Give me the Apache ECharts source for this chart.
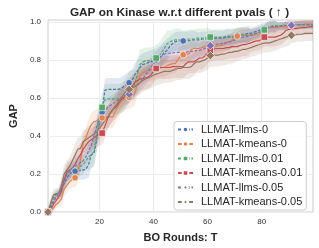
<!DOCTYPE html>
<html><head><meta charset="utf-8">
<script src="https://cdn.jsdelivr.net/npm/echarts@6/dist/echarts.min.js"></script>
<style>html,body{margin:0;padding:0;background:#fff}#c{width:319px;height:248px}</style>
</head><body><div id="c"></div>
<script>
// BO rounds 1..99
const rounds = Array.from({length: 99}, (_, i) => i + 1);
const seriesNames = ['LLMAT-llms-0','LLMAT-kmeans-0','LLMAT-llms-0.01','LLMAT-kmeans-0.01','LLMAT-llms-0.05','LLMAT-kmeans-0.05'];
const yTicks = [0, 0.2, 0.4, 0.6, 0.8, 1.0];
const xTicks = [20, 40, 60, 80];

const llms0 = [
 0,0.03,0.08,0.095,0.1,0.12,0.15,0.18,0.2,0.21,
 0.215,0.22,0.22,0.22,0.225,0.25,0.3,0.31,0.38,0.47,
 0.525,0.64,0.645,0.645,0.645,0.645,0.645,0.65,0.66,0.67,
 0.68,0.69,0.72,0.74,0.76,0.775,0.78,0.785,0.79,0.795,
 0.8,0.81,0.82,0.84,0.85,0.87,0.885,0.895,0.9,0.9,
 0.9,0.9,0.9,0.905,0.905,0.905,0.905,0.91,0.91,0.91,
 0.915,0.915,0.915,0.915,0.915,0.915,0.92,0.92,0.92,0.925,
 0.93,0.93,0.935,0.935,0.94,0.94,0.945,0.95,0.955,0.96,
 0.965,0.97,0.975,0.975,0.975,0.978,0.978,0.98,0.98,0.98,
 0.982,0.982,0.985,0.985,0.985,0.985,0.985,0.985,0.985];
const kmeans0 = [
 0,0.005,0.02,0.04,0.05,0.07,0.12,0.14,0.16,0.17,
 0.18,0.2,0.27,0.36,0.39,0.43,0.46,0.475,0.48,0.49,
 0.495,0.5,0.5,0.5,0.5,0.53,0.56,0.58,0.59,0.6,
 0.603,0.61,0.62,0.67,0.72,0.73,0.74,0.745,0.75,0.75,
 0.755,0.755,0.76,0.76,0.77,0.775,0.78,0.78,0.8,0.82,
 0.827,0.83,0.83,0.855,0.86,0.86,0.86,0.865,0.87,0.87,
 0.87,0.87,0.87,0.875,0.875,0.88,0.89,0.895,0.9,0.92,
 0.925,0.93,0.93,0.93,0.93,0.93,0.93,0.935,0.935,0.94,
 0.955,0.965,0.97,0.97,0.97,0.97,0.975,0.975,0.975,0.975,
 0.98,0.98,0.985,0.985,0.985,0.99,0.99,0.99,0.99];
const llms001 = [
 0,0.02,0.06,0.09,0.1,0.12,0.17,0.2,0.21,0.22,
 0.22,0.23,0.24,0.25,0.27,0.29,0.3,0.32,0.4,0.5,
 0.55,0.59,0.595,0.595,0.595,0.595,0.595,0.6,0.61,0.63,
 0.66,0.665,0.67,0.72,0.775,0.79,0.795,0.795,0.795,0.8,
 0.81,0.82,0.84,0.86,0.885,0.895,0.9,0.905,0.905,0.905,
 0.905,0.905,0.91,0.91,0.91,0.915,0.915,0.915,0.915,0.92,
 0.92,0.92,0.92,0.92,0.92,0.92,0.925,0.925,0.925,0.925,
 0.925,0.93,0.93,0.93,0.93,0.93,0.935,0.94,0.945,0.95,
 0.958,0.965,0.975,0.98,0.98,0.98,0.98,0.982,0.982,0.982,
 0.985,0.985,0.985,0.985,0.985,0.985,0.985,0.985,0.985];
const kmeans001 = [
 0,0.01,0.04,0.06,0.08,0.11,0.17,0.21,0.22,0.23,
 0.25,0.28,0.3,0.33,0.35,0.37,0.38,0.39,0.4,0.41,
 0.415,0.45,0.49,0.52,0.54,0.55,0.57,0.59,0.6,0.62,
 0.64,0.66,0.68,0.69,0.7,0.7,0.705,0.71,0.72,0.74,
 0.755,0.76,0.76,0.76,0.76,0.76,0.765,0.765,0.765,0.765,
 0.765,0.78,0.79,0.79,0.79,0.8,0.81,0.81,0.82,0.84,
 0.85,0.855,0.86,0.86,0.86,0.86,0.865,0.865,0.87,0.87,
 0.87,0.875,0.88,0.88,0.885,0.89,0.895,0.9,0.9,0.91,
 0.92,0.92,0.92,0.92,0.92,0.925,0.93,0.94,0.955,0.96,
 0.962,0.965,0.965,0.968,0.97,0.97,0.972,0.975,0.975];
const llms005 = [
 0,0.02,0.05,0.08,0.09,0.12,0.16,0.2,0.22,0.23,
 0.24,0.25,0.26,0.27,0.29,0.32,0.35,0.4,0.45,0.5,
 0.52,0.53,0.55,0.56,0.57,0.58,0.59,0.6,0.61,0.615,
 0.62,0.64,0.66,0.665,0.68,0.7,0.72,0.74,0.76,0.78,
 0.795,0.81,0.82,0.83,0.835,0.835,0.835,0.84,0.84,0.84,
 0.84,0.84,0.845,0.845,0.845,0.85,0.85,0.855,0.86,0.865,
 0.875,0.88,0.88,0.885,0.885,0.89,0.89,0.895,0.9,0.905,
 0.91,0.915,0.92,0.92,0.925,0.93,0.935,0.94,0.945,0.95,
 0.955,0.965,0.97,0.975,0.975,0.975,0.978,0.978,0.98,0.98,
 0.982,0.982,0.985,0.985,0.985,0.985,0.985,0.985,0.985];
const kmeans005 = [
 0,0.05,0.09,0.095,0.1,0.14,0.2,0.22,0.24,0.27,
 0.3,0.33,0.335,0.37,0.38,0.39,0.4,0.41,0.42,0.44,
 0.46,0.48,0.5,0.52,0.54,0.56,0.58,0.6,0.62,0.635,
 0.645,0.65,0.66,0.67,0.68,0.69,0.7,0.705,0.71,0.72,
 0.725,0.73,0.735,0.74,0.74,0.74,0.745,0.75,0.755,0.755,
 0.76,0.76,0.76,0.765,0.78,0.79,0.79,0.795,0.8,0.81,
 0.823,0.825,0.825,0.825,0.83,0.83,0.835,0.84,0.84,0.845,
 0.845,0.85,0.855,0.855,0.86,0.865,0.87,0.875,0.88,0.885,
 0.888,0.89,0.89,0.895,0.9,0.905,0.91,0.915,0.92,0.925,
 0.93,0.93,0.935,0.935,0.935,0.94,0.94,0.94,0.94];

// confidence band half-widths, one per block of 5 rounds
const bandLlms0    = [0.02,0.04,0.05,0.07,0.06,0.06,0.06,0.06,0.06,0.05,0.05,0.04,0.04,0.04,0.04,0.03,0.03,0.02,0.02,0.02];
const bandKmeans0  = [0.02,0.04,0.05,0.06,0.06,0.06,0.06,0.06,0.05,0.05,0.05,0.04,0.04,0.04,0.04,0.03,0.03,0.02,0.02,0.02];
const bandLlms001  = [0.02,0.04,0.05,0.07,0.08,0.08,0.08,0.07,0.07,0.06,0.05,0.05,0.04,0.04,0.04,0.03,0.03,0.02,0.02,0.02];
const bandKmeans001= [0.03,0.05,0.06,0.06,0.06,0.06,0.06,0.06,0.06,0.06,0.06,0.06,0.06,0.06,0.06,0.05,0.05,0.05,0.04,0.04];
const bandLlms005  = [0.02,0.04,0.05,0.05,0.05,0.05,0.05,0.05,0.05,0.05,0.05,0.04,0.04,0.04,0.04,0.03,0.03,0.02,0.02,0.02];
const bandKmeans005= [0.03,0.05,0.06,0.06,0.06,0.06,0.06,0.06,0.06,0.06,0.06,0.06,0.06,0.06,0.05,0.05,0.05,0.05,0.04,0.04];

const values = [llms0, kmeans0, llms001, kmeans001, llms005, kmeans005];
const bands = [bandLlms0, bandKmeans0, bandLlms001, bandKmeans001, bandLlms005, bandKmeans005];
const colors = ['#4c72b0','#dd8452','#55a868','#c44e52','#8172b3','#937860'];
const dashed = [true, false, true, false, true, false];
const symbols = ['circle','circle','rect','rect','diamond','diamond'];
const symbolSizes = [6.5,6.5,6.5,6.5,8.5,8.5];
const markEvery = [10,10,20,20,30,30];

const FONT = 'Liberation Sans, Arial, sans-serif';
const series = [];
values.forEach((vals, s) => {
  const band = bands[s];
  series.push({
    type: 'custom', silent: true, z: 1, clip: true,
    data: [[rounds[0], vals[0]]],
    renderItem: (params, api) => {
      const up = [], lo = [];
      for (let i = 0; i < rounds.length; i++) {
        const w = band[Math.floor(i / 5)];
        up.push(api.coord([rounds[i], vals[i] + w]));
        lo.push(api.coord([rounds[i], vals[i] - w]));
      }
      return {type: 'polygon', shape: {points: up.concat(lo.reverse())},
        style: {fill: colors[s], opacity: 0.16}};
    }
  });
});
values.forEach((vals, s) => {
  series.push({
    name: seriesNames[s], type: 'line', z: 3,
    symbol: symbols[s], symbolSize: symbolSizes[s], showAllSymbol: true,
    data: rounds.map((x, i) => ({value: [x, vals[i]], symbol: (i % markEvery[s] === 0) ? symbols[s] : 'none'})),
    lineStyle: {color: colors[s], width: 1.2, type: dashed[s] ? [3, 1.5] : 'solid'},
    itemStyle: {color: colors[s], borderColor: '#fff', borderWidth: 0.6},
    emphasis: {disabled: true}
  });
});

const chart = echarts.init(document.getElementById('c'), null, {renderer: 'canvas'});
chart.setOption({
  animation: false,
  backgroundColor: '#fff',
  title: {
    text: 'GAP on Kinase w.r.t different pvals ( ↑ )',
    left: 174.5, textAlign: 'center', top: 1.5,
    textStyle: {fontFamily: FONT, fontSize: 11.8, fontWeight: 'bold', color: '#262626'}
  },
  grid: {left: 36, right: 6, top: 20, bottom: 33, show: true, borderColor: '#cccccc', borderWidth: 1, backgroundColor: 'transparent'},
  legend: {
    data: seriesNames, left: 174, top: 121.5, orient: 'vertical',
    itemWidth: 15, itemHeight: 7, itemGap: 0.5,
    padding: [1, 4, 1, 3],
    backgroundColor: 'rgba(255,255,255,0.85)', borderColor: '#cccccc', borderWidth: 1, borderRadius: 3,
    textStyle: {fontFamily: FONT, fontSize: 11, color: '#262626', lineHeight: 14, padding: [0,0,0,3]}
  },
  xAxis: {
    type: 'value', min: 1, max: 99,
    name: 'BO Rounds: T', nameLocation: 'middle', nameGap: 20,
    nameTextStyle: {fontFamily: FONT, fontSize: 11, fontWeight: 'bold', color: '#262626'},
    axisLine: {show: false}, axisTick: {show: false, customValues: xTicks},
    axisLabel: {customValues: xTicks, fontFamily: FONT, fontSize: 8, color: '#333', margin: 6},
    splitLine: {show: true, lineStyle: {color: '#ececec', width: 1}}
  },
  yAxis: {
    type: 'value', min: 0, max: 1.01, interval: 0.2,
    name: 'GAP', nameLocation: 'middle', nameGap: 25,
    nameTextStyle: {fontFamily: FONT, fontSize: 11, fontWeight: 'bold', color: '#262626'},
    axisLine: {show: false}, axisTick: {show: false, customValues: yTicks},
    axisLabel: {fontFamily: FONT, fontSize: 8, color: '#333', margin: 7,
      customValues: yTicks, formatter: v => v.toFixed(1)},
    splitLine: {show: true, lineStyle: {color: '#ececec', width: 1}}
  },
  series: series
});
</script></body></html>
